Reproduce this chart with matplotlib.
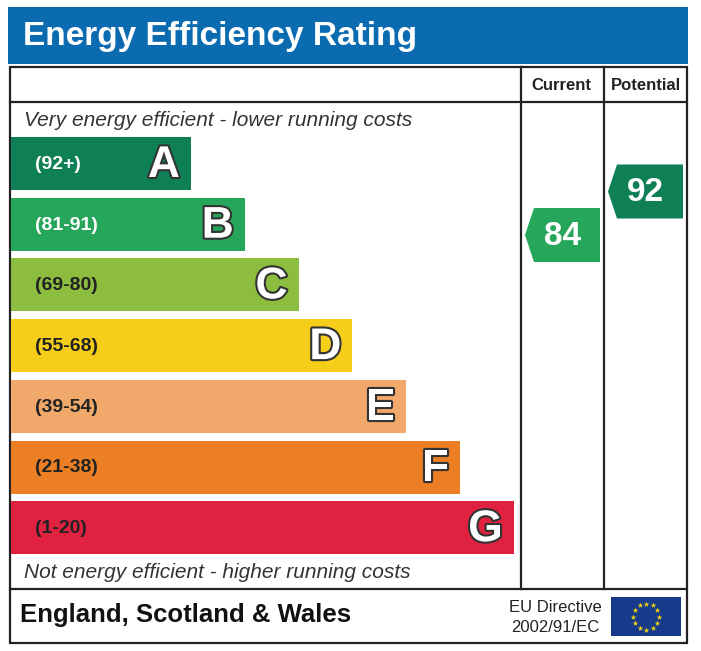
import matplotlib.pyplot as plt
from matplotlib.patches import Rectangle, Polygon
import matplotlib.patheffects as pe
import numpy as np

plt.rcParams['font.family'] = ['Liberation Sans', 'DejaVu Sans']

# data
bands = ['A', 'B', 'C', 'D', 'E', 'F', 'G']
ranges = ['(92+)', '(81-91)', '(69-80)', '(55-68)', '(39-54)', '(21-38)', '(1-20)']
band_colors = ['#0f8055', '#26a65a', '#8cbd3f', '#f6cd18', '#f1a96b', '#ec7f24', '#e0213f']
range_text_colors = ['white', 'white', '#222222', '#222222', '#222222', '#222222', '#222222']
current_score = 84
potential_score = 92


def band_of(score):
    lows = [92, 81, 69, 55, 39, 21, 1]
    for i, lo in enumerate(lows):
        if score >= lo:
            return i
    return len(lows) - 1


W, H = 701, 651
fig = plt.figure(figsize=(W / 100, H / 100), dpi=100)
ax = fig.add_axes([0, 0, 1, 1])
ax.set_xlim(0, W)
ax.set_ylim(H, 0)
ax.axis('off')

# title bar
ax.add_patch(Rectangle((8, 7), 680, 57, facecolor='#0b6bb1', edgecolor='none'))
ax.text(23, 37, 'Energy Efficiency Rating', color='white', fontsize=24,
        fontweight='bold', va='center', ha='left')

# frame
lw = 1.6
ax.add_patch(Rectangle((10, 67), 677, 576, facecolor='none', edgecolor='#222222', lw=lw))
ax.plot([10, 687], [102, 102], color='#222222', lw=lw)
ax.plot([10, 687], [589, 589], color='#222222', lw=lw)
ax.plot([521, 521], [67, 589], color='#222222', lw=lw)
ax.plot([604, 604], [67, 589], color='#222222', lw=lw)

ax.text(561, 86, 'Current', fontsize=12, fontweight='bold', ha='center', va='center', color='#222222')
ax.text(646, 86, 'Potential', fontsize=12, fontweight='bold', ha='center', va='center', color='#222222')

ax.text(24, 120, 'Very energy efficient - lower running costs', fontsize=15,
        style='italic', ha='left', va='center', color='#333333')
ax.text(24, 573, 'Not energy efficient - higher running costs', fontsize=15,
        style='italic', ha='left', va='center', color='#333333')

# bands
row_top = 137
row_step = 60.7
row_h = 53
for i, b in enumerate(bands):
    y0 = row_top + i * row_step
    right = 191 + i * 53.8
    ax.add_patch(Rectangle((11, y0), right - 11, row_h, facecolor=band_colors[i], edgecolor='none'))
    ax.text(35, y0 + row_h / 2 + 1, ranges[i], fontsize=14, fontweight='bold',
            color=range_text_colors[i], ha='left', va='center')
    ax.text(right - 11, y0 + row_h / 2 + 2, b, fontsize=32, fontweight='bold', color='white',
            ha='right', va='center',
            path_effects=[pe.withStroke(linewidth=3, foreground='#333333')])


# arrows for current / potential
def score_arrow(score, x_left, x_right):
    yc = 191.5 + (92 - score) * 5.44
    h = 27
    tip = 9
    pts = [(x_right, yc - h), (x_left + tip, yc - h), (x_left, yc),
           (x_left + tip, yc + h), (x_right, yc + h)]
    ax.add_patch(Polygon(pts, closed=True, facecolor=band_colors[band_of(score)], edgecolor='none'))
    ax.text((x_left + x_right) / 2, yc + 1, str(score), fontsize=24, fontweight='bold',
            color='white', ha='center', va='center')


score_arrow(current_score, 525, 600)
score_arrow(potential_score, 608, 683)

# footer
ax.text(20, 615, 'England, Scotland & Wales', fontsize=18.5, fontweight='bold',
        ha='left', va='center', color='#111111')
ax.text(555, 607, 'EU Directive', fontsize=12, ha='center', va='center', color='#222222')
ax.text(555, 627, '2002/91/EC', fontsize=12, ha='center', va='center', color='#222222')

ax.add_patch(Rectangle((611, 597), 70, 39, facecolor='#173b8a', edgecolor='none'))
ang = np.linspace(0, 2 * np.pi, 12, endpoint=False)
ax.scatter(646 + 13 * np.cos(ang), 616.5 + 13 * np.sin(ang), marker='*', s=18,
           color='#f5d40f', linewidths=0)

fig.savefig('out.png', dpi=100)
